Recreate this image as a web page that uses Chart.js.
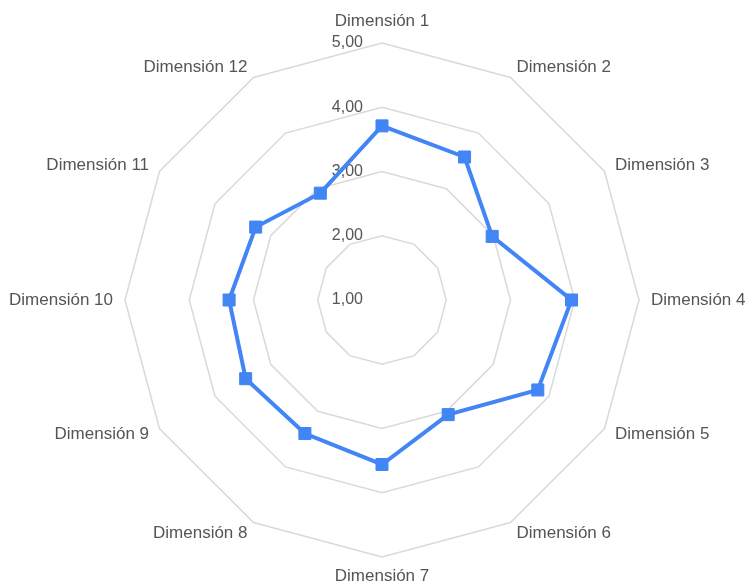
<!DOCTYPE html>
<html>
<head>
<meta charset="utf-8">
<script src="https://cdn.jsdelivr.net/npm/chart.js@4"></script>
<style>
  html, body { margin: 0; padding: 0; background: #fff; }
  #wrap { position: relative; width: 746px; height: 585px; }
</style>
</head>
<body>
<div id="wrap"><canvas id="radarChart"></canvas></div>
<script>
// Data
const dimensions = [
  'Dimensión 1', 'Dimensión 2', 'Dimensión 3', 'Dimensión 4',
  'Dimensión 5', 'Dimensión 6', 'Dimensión 7', 'Dimensión 8',
  'Dimensión 9', 'Dimensión 10', 'Dimensión 11', 'Dimensión 12'
];
const scores = [3.71, 3.57, 2.98, 3.95, 3.80, 3.06, 3.56, 3.40, 3.45, 3.38, 3.27, 2.92];
const tickValues = [1, 2, 3, 4, 5];

const blue = '#4285F4';
const textGray = '#555555';
const gridGray = '#d9d9d9';
const fontFamily = '"Liberation Sans", Arial, sans-serif';

function fmt(v) {
  return v.toFixed(2).replace('.', ',');
}

// tick labels left of the vertical axis + point labels centred on their spoke
const radarText = {
  id: 'radarText',
  beforeDatasetsDraw(chart) {
    const scale = chart.scales.r;
    const ctx = chart.ctx;
    ctx.save();
    ctx.fillStyle = textGray;

    ctx.font = '16px ' + fontFamily;
    ctx.textAlign = 'right';
    ctx.textBaseline = 'middle';
    tickValues.forEach(v => {
      const d = scale.getDistanceFromCenterForValue(v);
      ctx.fillText(fmt(v), scale.xCenter - 19, scale.yCenter - d);
    });

    ctx.font = '17px ' + fontFamily;
    const n = chart.data.labels.length;
    chart.data.labels.forEach((label, i) => {
      let extra = 12;
      if (i === 0) extra = 22;
      if (i === n / 2) extra = 19;
      const p = scale.getPointPosition(i, scale.drawingArea + extra);
      if (i === 0 || i === n / 2) ctx.textAlign = 'center';
      else if (i < n / 2) ctx.textAlign = 'left';
      else ctx.textAlign = 'right';
      ctx.fillText(label, p.x, p.y);
    });
    ctx.restore();
  }
};

new Chart(document.getElementById('radarChart'), {
  type: 'radar',
  data: {
    labels: dimensions,
    datasets: [{
      data: scores,
      borderColor: blue,
      backgroundColor: 'rgba(0,0,0,0)',
      borderWidth: 4,
      fill: false,
      pointStyle: 'rect',
      pointRadius: 8.5,
      pointBorderWidth: 1,
      pointBackgroundColor: blue,
      pointBorderColor: blue,
      tension: 0
    }]
  },
  options: {
    responsive: true,
    maintainAspectRatio: false,
    animation: false,
    layout: {
      padding: { left: 82, right: 64, top: 43, bottom: 28 }
    },
    plugins: {
      legend: { display: false },
      tooltip: { enabled: false }
    },
    scales: {
      r: {
        min: 1,
        max: 5,
        angleLines: { display: false },
        grid: { color: gridGray, lineWidth: 1.5, circular: false },
        ticks: { display: false, stepSize: 1 },
        pointLabels: { display: false }
      }
    }
  },
  plugins: [radarText]
});
</script>
</body>
</html>
